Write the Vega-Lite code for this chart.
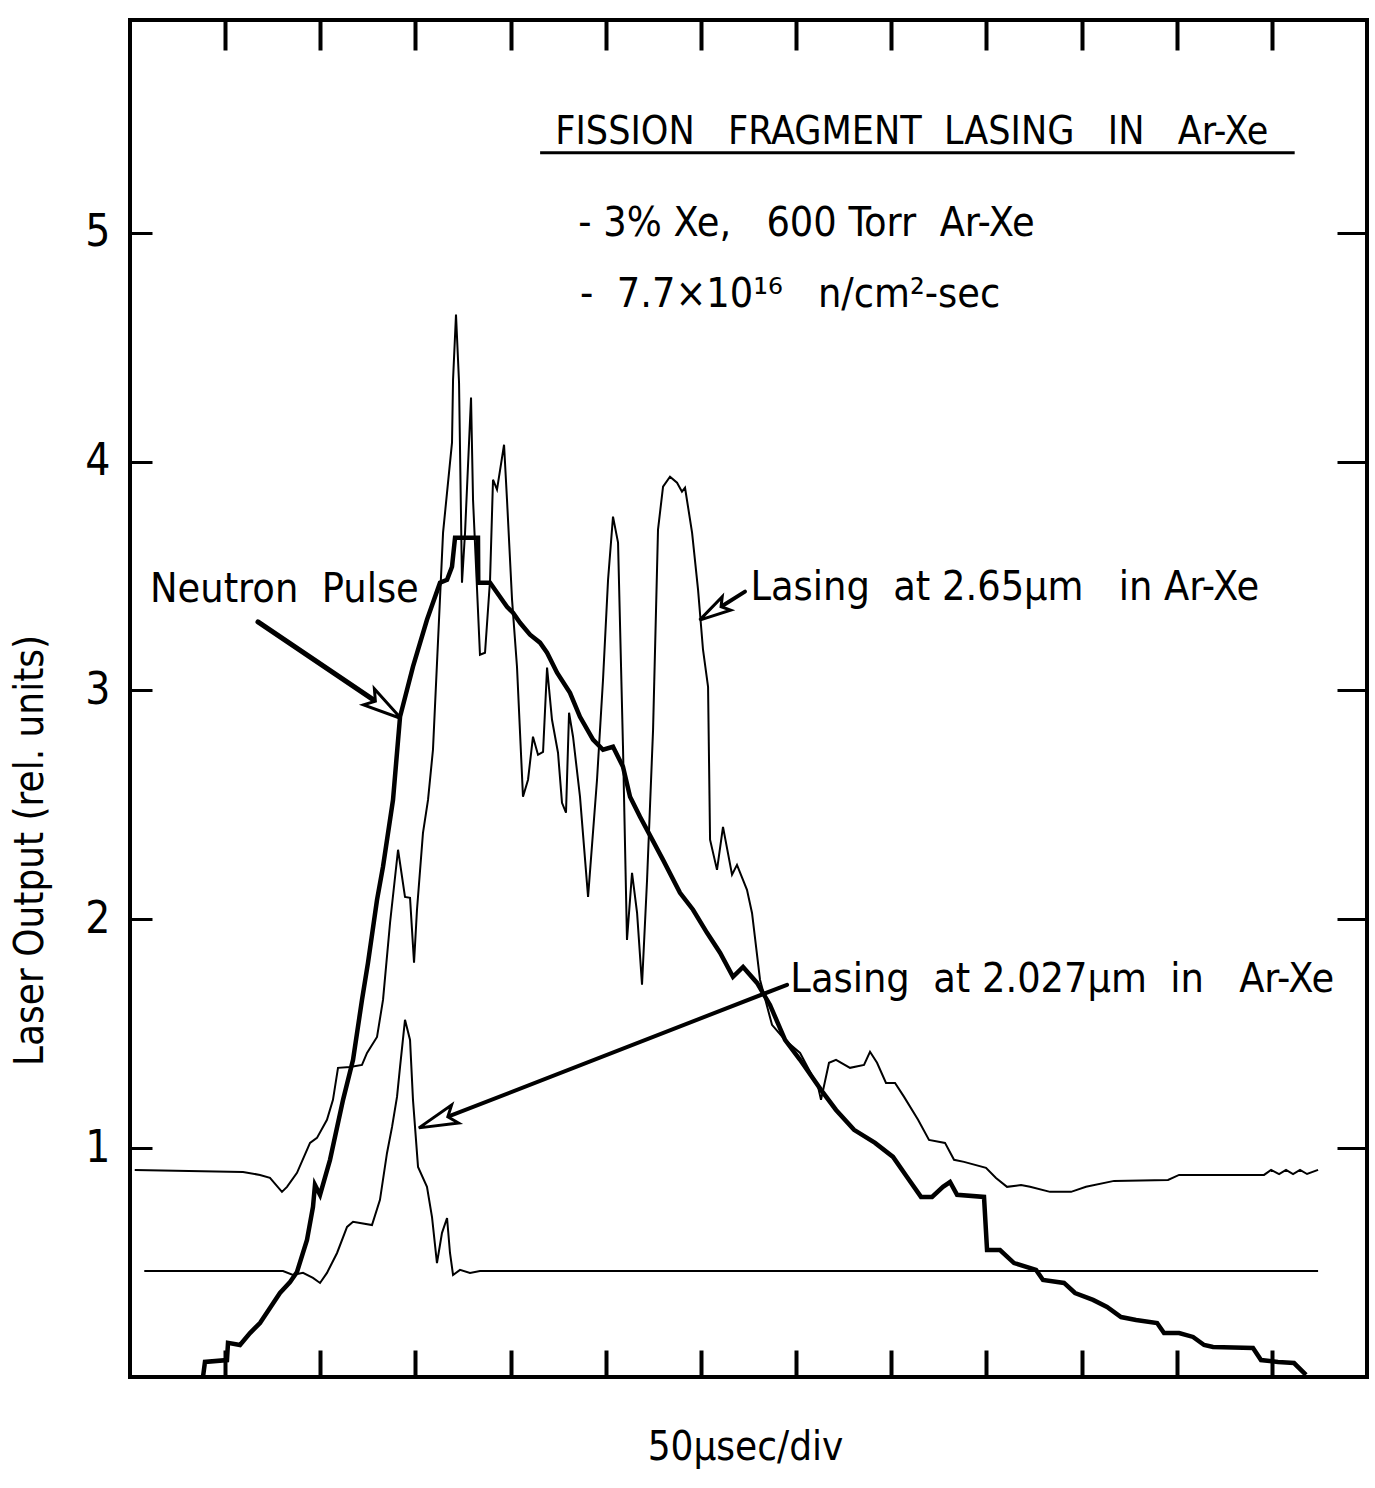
{
  "$schema": "https://vega.github.io/schema/vega-lite/v6.json",
  "width": 1237,
  "height": 1357,
  "autosize": "none",
  "padding": {"left": 130, "top": 20, "right": 8, "bottom": 111},
  "background": "white",
  "config": {
    "view": {"stroke": "black", "strokeWidth": 4},
    "font": "DejaVu Sans Condensed",
    "axis": {"grid": false, "domain": false, "labelColor": "black", "tickColor": "black", "titleColor": "black", "titleFontWeight": "normal", "labelFont": "DejaVu Sans Condensed", "titleFont": "DejaVu Sans Condensed"}
  },
  "datasets": {
    "neutron": [
      {"t": 0.767, "v": 0.0}, {"t": 0.788, "v": 0.066}, {"t": 1.019, "v": 0.074}, {"t": 1.03, "v": 0.149},
      {"t": 1.156, "v": 0.14}, {"t": 1.261, "v": 0.192}, {"t": 1.366, "v": 0.236}, {"t": 1.471, "v": 0.302},
      {"t": 1.576, "v": 0.367}, {"t": 1.682, "v": 0.415}, {"t": 1.755, "v": 0.459}, {"t": 1.86, "v": 0.599},
      {"t": 1.923, "v": 0.743}, {"t": 1.944, "v": 0.839}, {"t": 1.997, "v": 0.796}, {"t": 2.102, "v": 0.949},
      {"t": 2.239, "v": 1.211}, {"t": 2.344, "v": 1.386}, {"t": 2.438, "v": 1.648}, {"t": 2.501, "v": 1.81},
      {"t": 2.596, "v": 2.085}, {"t": 2.659, "v": 2.23}, {"t": 2.764, "v": 2.522}, {"t": 2.838, "v": 2.885},
      {"t": 2.974, "v": 3.104}, {"t": 3.121, "v": 3.309}, {"t": 3.258, "v": 3.471}, {"t": 3.332, "v": 3.484},
      {"t": 3.384, "v": 3.541}, {"t": 3.416, "v": 3.668}, {"t": 3.657, "v": 3.668}, {"t": 3.66, "v": 3.471},
      {"t": 3.784, "v": 3.471}, {"t": 3.836, "v": 3.44}, {"t": 3.962, "v": 3.366}, {"t": 4.025, "v": 3.34},
      {"t": 4.099, "v": 3.296}, {"t": 4.204, "v": 3.244}, {"t": 4.309, "v": 3.209}, {"t": 4.383, "v": 3.165},
      {"t": 4.488, "v": 3.078}, {"t": 4.624, "v": 2.99}, {"t": 4.729, "v": 2.885}, {"t": 4.866, "v": 2.785},
      {"t": 4.971, "v": 2.741}, {"t": 5.076, "v": 2.754}, {"t": 5.181, "v": 2.667}, {"t": 5.255, "v": 2.536},
      {"t": 5.36, "v": 2.448}, {"t": 5.434, "v": 2.391}, {"t": 5.602, "v": 2.26}, {"t": 5.78, "v": 2.116},
      {"t": 5.917, "v": 2.042}, {"t": 6.064, "v": 1.941}, {"t": 6.201, "v": 1.854}, {"t": 6.337, "v": 1.749},
      {"t": 6.443, "v": 1.792}, {"t": 6.59, "v": 1.722}, {"t": 6.726, "v": 1.626}, {"t": 6.884, "v": 1.473},
      {"t": 7.042, "v": 1.386}, {"t": 7.262, "v": 1.255}, {"t": 7.42, "v": 1.167}, {"t": 7.609, "v": 1.08},
      {"t": 7.83, "v": 1.023}, {"t": 8.019, "v": 0.962}, {"t": 8.166, "v": 0.874}, {"t": 8.313, "v": 0.787},
      {"t": 8.429, "v": 0.787}, {"t": 8.544, "v": 0.831}, {"t": 8.618, "v": 0.852}, {"t": 8.692, "v": 0.796},
      {"t": 8.975, "v": 0.787}, {"t": 9.007, "v": 0.555}, {"t": 9.143, "v": 0.555}, {"t": 9.291, "v": 0.498},
      {"t": 9.522, "v": 0.468}, {"t": 9.595, "v": 0.424}, {"t": 9.816, "v": 0.411}, {"t": 9.932, "v": 0.367},
      {"t": 10.121, "v": 0.337}, {"t": 10.268, "v": 0.306}, {"t": 10.415, "v": 0.262}, {"t": 10.573, "v": 0.249},
      {"t": 10.794, "v": 0.236}, {"t": 10.867, "v": 0.192}, {"t": 11.025, "v": 0.192}, {"t": 11.172, "v": 0.175},
      {"t": 11.288, "v": 0.14}, {"t": 11.382, "v": 0.131}, {"t": 11.802, "v": 0.127}, {"t": 11.886, "v": 0.074},
      {"t": 12.065, "v": 0.066}, {"t": 12.233, "v": 0.061}, {"t": 12.359, "v": 0.009}
    ],
    "lasing": [
      {"s": "2.65", "t": 0.05, "v": 0.905}, {"s": "2.65", "t": 1.188, "v": 0.896}, {"s": "2.65", "t": 1.366, "v": 0.883},
      {"s": "2.65", "t": 1.471, "v": 0.87}, {"s": "2.65", "t": 1.597, "v": 0.809}, {"s": "2.65", "t": 1.65, "v": 0.831},
      {"s": "2.65", "t": 1.755, "v": 0.892}, {"s": "2.65", "t": 1.892, "v": 1.023}, {"s": "2.65", "t": 1.965, "v": 1.045},
      {"s": "2.65", "t": 2.07, "v": 1.124}, {"s": "2.65", "t": 2.133, "v": 1.211}, {"s": "2.65", "t": 2.186, "v": 1.351},
      {"s": "2.65", "t": 2.312, "v": 1.355}, {"s": "2.65", "t": 2.438, "v": 1.364}, {"s": "2.65", "t": 2.491, "v": 1.416},
      {"s": "2.65", "t": 2.596, "v": 1.486}, {"s": "2.65", "t": 2.659, "v": 1.648}, {"s": "2.65", "t": 2.733, "v": 1.985},
      {"s": "2.65", "t": 2.817, "v": 2.304}, {"s": "2.65", "t": 2.89, "v": 2.098}, {"s": "2.65", "t": 2.943, "v": 2.094},
      {"s": "2.65", "t": 2.985, "v": 1.81}, {"s": "2.65", "t": 3.016, "v": 2.042}, {"s": "2.65", "t": 3.079, "v": 2.378},
      {"s": "2.65", "t": 3.132, "v": 2.522}, {"s": "2.65", "t": 3.184, "v": 2.741}, {"s": "2.65", "t": 3.29, "v": 3.69},
      {"s": "2.65", "t": 3.384, "v": 4.083}, {"s": "2.65", "t": 3.395, "v": 4.358}, {"s": "2.65", "t": 3.426, "v": 4.643},
      {"s": "2.65", "t": 3.458, "v": 4.345}, {"s": "2.65", "t": 3.489, "v": 3.471}, {"s": "2.65", "t": 3.521, "v": 3.69},
      {"s": "2.65", "t": 3.584, "v": 4.28}, {"s": "2.65", "t": 3.605, "v": 3.834}, {"s": "2.65", "t": 3.678, "v": 3.156},
      {"s": "2.65", "t": 3.731, "v": 3.165}, {"s": "2.65", "t": 3.784, "v": 3.484}, {"s": "2.65", "t": 3.815, "v": 3.921},
      {"s": "2.65", "t": 3.857, "v": 3.878}, {"s": "2.65", "t": 3.931, "v": 4.074}, {"s": "2.65", "t": 3.962, "v": 3.834},
      {"s": "2.65", "t": 4.015, "v": 3.397}, {"s": "2.65", "t": 4.067, "v": 3.104}, {"s": "2.65", "t": 4.13, "v": 2.536},
      {"s": "2.65", "t": 4.183, "v": 2.61}, {"s": "2.65", "t": 4.235, "v": 2.798}, {"s": "2.65", "t": 4.288, "v": 2.719},
      {"s": "2.65", "t": 4.341, "v": 2.732}, {"s": "2.65", "t": 4.383, "v": 3.1}, {"s": "2.65", "t": 4.435, "v": 2.872},
      {"s": "2.65", "t": 4.498, "v": 2.728}, {"s": "2.65", "t": 4.54, "v": 2.509}, {"s": "2.65", "t": 4.582, "v": 2.466},
      {"s": "2.65", "t": 4.614, "v": 2.903}, {"s": "2.65", "t": 4.656, "v": 2.798}, {"s": "2.65", "t": 4.729, "v": 2.536},
      {"s": "2.65", "t": 4.814, "v": 2.098}, {"s": "2.65", "t": 4.908, "v": 2.61}, {"s": "2.65", "t": 4.971, "v": 3.047},
      {"s": "2.65", "t": 5.024, "v": 3.484}, {"s": "2.65", "t": 5.076, "v": 3.76}, {"s": "2.65", "t": 5.129, "v": 3.646},
      {"s": "2.65", "t": 5.181, "v": 2.754}, {"s": "2.65", "t": 5.223, "v": 1.91}, {"s": "2.65", "t": 5.276, "v": 2.203},
      {"s": "2.65", "t": 5.329, "v": 2.028}, {"s": "2.65", "t": 5.381, "v": 1.714}, {"s": "2.65", "t": 5.434, "v": 2.173},
      {"s": "2.65", "t": 5.497, "v": 2.828}, {"s": "2.65", "t": 5.549, "v": 3.703}, {"s": "2.65", "t": 5.602, "v": 3.891},
      {"s": "2.65", "t": 5.675, "v": 3.934}, {"s": "2.65", "t": 5.749, "v": 3.908}, {"s": "2.65", "t": 5.801, "v": 3.869},
      {"s": "2.65", "t": 5.833, "v": 3.886}, {"s": "2.65", "t": 5.907, "v": 3.69}, {"s": "2.65", "t": 5.97, "v": 3.44},
      {"s": "2.65", "t": 6.022, "v": 3.178}, {"s": "2.65", "t": 6.075, "v": 3.016}, {"s": "2.65", "t": 6.096, "v": 2.348},
      {"s": "2.65", "t": 6.169, "v": 2.216}, {"s": "2.65", "t": 6.232, "v": 2.404}, {"s": "2.65", "t": 6.327, "v": 2.195},
      {"s": "2.65", "t": 6.379, "v": 2.238}, {"s": "2.65", "t": 6.484, "v": 2.129}, {"s": "2.65", "t": 6.537, "v": 2.028},
      {"s": "2.65", "t": 6.621, "v": 1.736}, {"s": "2.65", "t": 6.747, "v": 1.539}, {"s": "2.65", "t": 6.884, "v": 1.473},
      {"s": "2.65", "t": 7.042, "v": 1.416}, {"s": "2.65", "t": 7.231, "v": 1.268}, {"s": "2.65", "t": 7.262, "v": 1.211},
      {"s": "2.65", "t": 7.346, "v": 1.373}, {"s": "2.65", "t": 7.42, "v": 1.386}, {"s": "2.65", "t": 7.567, "v": 1.351},
      {"s": "2.65", "t": 7.714, "v": 1.364}, {"s": "2.65", "t": 7.777, "v": 1.421}, {"s": "2.65", "t": 7.851, "v": 1.373},
      {"s": "2.65", "t": 7.945, "v": 1.285}, {"s": "2.65", "t": 8.04, "v": 1.285}, {"s": "2.65", "t": 8.135, "v": 1.224},
      {"s": "2.65", "t": 8.282, "v": 1.124}, {"s": "2.65", "t": 8.397, "v": 1.036}, {"s": "2.65", "t": 8.565, "v": 1.023},
      {"s": "2.65", "t": 8.66, "v": 0.949}, {"s": "2.65", "t": 8.765, "v": 0.94}, {"s": "2.65", "t": 8.996, "v": 0.914},
      {"s": "2.65", "t": 9.101, "v": 0.87}, {"s": "2.65", "t": 9.217, "v": 0.831}, {"s": "2.65", "t": 9.364, "v": 0.839},
      {"s": "2.65", "t": 9.459, "v": 0.831}, {"s": "2.65", "t": 9.669, "v": 0.809}, {"s": "2.65", "t": 9.89, "v": 0.809},
      {"s": "2.65", "t": 10.047, "v": 0.831}, {"s": "2.65", "t": 10.342, "v": 0.857}, {"s": "2.65", "t": 10.909, "v": 0.861},
      {"s": "2.65", "t": 11.025, "v": 0.883}, {"s": "2.65", "t": 11.918, "v": 0.883}, {"s": "2.65", "t": 11.992, "v": 0.905},
      {"s": "2.65", "t": 12.076, "v": 0.887}, {"s": "2.65", "t": 12.149, "v": 0.905}, {"s": "2.65", "t": 12.223, "v": 0.887},
      {"s": "2.65", "t": 12.296, "v": 0.905}, {"s": "2.65", "t": 12.37, "v": 0.887}, {"s": "2.65", "t": 12.486, "v": 0.905},
      {"s": "2.027", "t": 0.15, "v": 0.463}, {"s": "2.027", "t": 1.608, "v": 0.463}, {"s": "2.027", "t": 1.713, "v": 0.446},
      {"s": "2.027", "t": 1.818, "v": 0.455}, {"s": "2.027", "t": 1.923, "v": 0.433}, {"s": "2.027", "t": 1.997, "v": 0.411},
      {"s": "2.027", "t": 2.07, "v": 0.455}, {"s": "2.027", "t": 2.176, "v": 0.542}, {"s": "2.027", "t": 2.281, "v": 0.656},
      {"s": "2.027", "t": 2.344, "v": 0.678}, {"s": "2.027", "t": 2.543, "v": 0.664}, {"s": "2.027", "t": 2.627, "v": 0.774},
      {"s": "2.027", "t": 2.701, "v": 0.979}, {"s": "2.027", "t": 2.754, "v": 1.093}, {"s": "2.027", "t": 2.806, "v": 1.224},
      {"s": "2.027", "t": 2.838, "v": 1.355}, {"s": "2.027", "t": 2.89, "v": 1.561}, {"s": "2.027", "t": 2.943, "v": 1.473},
      {"s": "2.027", "t": 2.974, "v": 1.211}, {"s": "2.027", "t": 3.027, "v": 0.918}, {"s": "2.027", "t": 3.121, "v": 0.831},
      {"s": "2.027", "t": 3.174, "v": 0.699}, {"s": "2.027", "t": 3.226, "v": 0.498}, {"s": "2.027", "t": 3.279, "v": 0.63},
      {"s": "2.027", "t": 3.332, "v": 0.695}, {"s": "2.027", "t": 3.363, "v": 0.542}, {"s": "2.027", "t": 3.395, "v": 0.446},
      {"s": "2.027", "t": 3.468, "v": 0.468}, {"s": "2.027", "t": 3.573, "v": 0.455}, {"s": "2.027", "t": 3.678, "v": 0.463},
      {"s": "2.027", "t": 12.486, "v": 0.463}
    ],
    "arrows": [
      {"name": "neutron", "t": 1.345, "v": 3.3, "t2": 2.68, "v2": 2.925},
      {"name": "l265", "t": 6.463, "v": 3.432, "t2": 6.127, "v2": 3.344},
      {"name": "l2027", "t": 6.905, "v": 1.714, "t2": 3.226, "v2": 1.119}
    ],
    "heads": [
      {"name": "neutron", "t": 2.68, "v": 2.925},
      {"name": "l265", "t": 6.127, "v": 3.344},
      {"name": "l2027", "t": 3.226, "v": 1.119}
    ],
    "notes": [
      {"kind": "title", "t": 4.47, "v": 5.44, "label": "FISSION\u00a0\u00a0\u00a0FRAGMENT\u00a0\u00a0LASING\u00a0\u00a0\u00a0IN\u00a0\u00a0\u00a0Ar-Xe"},
      {"kind": "text", "t": 4.71, "v": 5.04, "label": "- 3% Xe,\u00a0\u00a0 600 Torr\u00a0\u00a0Ar-Xe"},
      {"kind": "text", "t": 4.73, "v": 4.73, "label": "-\u00a0 7.7\u00d710\u00b9\u2076\u00a0\u00a0 n/cm\u00b2-sec"},
      {"kind": "text", "t": 0.21, "v": 3.44, "label": "Neutron\u00a0 Pulse"},
      {"kind": "text", "t": 6.52, "v": 3.45, "label": "Lasing\u00a0 at 2.65\u00b5m\u00a0\u00a0 in Ar-Xe"},
      {"kind": "text", "t": 6.94, "v": 1.735, "label": "Lasing\u00a0 at 2.027\u00b5m\u00a0 in\u00a0\u00a0 Ar-Xe"}
    ],
    "underline": [
      {"t": 4.31, "t2": 12.24, "v": 5.35}
    ]
  },
  "resolve": {"axis": {"x": "independent", "y": "independent"}},
  "layer": [
    {
      "data": {"name": "neutron"},
      "mark": {"type": "line", "color": "black", "strokeWidth": 4.5, "interpolate": "linear"},
      "encoding": {
        "x": {"field": "t", "type": "quantitative", "scale": {"domain": [0, 13], "nice": false, "zero": false},
              "axis": {"orient": "bottom", "values": [1,2,3,4,5,6,7,8,9,10,11,12], "labels": false, "tickSize": -27, "tickWidth": 4,
                       "title": "50\u00b5sec/div", "titleFontSize": 40, "titleX": 615, "titleY": 70, "titleBaseline": "middle", "titleAnchor": null}},
        "y": {"field": "v", "type": "quantitative", "scale": {"domain": [0, 5.93], "nice": false, "zero": false},
              "axis": {"orient": "left", "values": [1,2,3,4,5], "tickSize": -22, "tickWidth": 3, "labelFontSize": 44, "labelPadding": 42,
                       "title": "Laser Output (rel. units)", "titleFontSize": 40, "titleX": -100, "titleY": 830, "titleAngle": -90, "titleAlign": "center", "titleBaseline": "middle"}}
      }
    },
    {
      "data": {"name": "lasing"},
      "mark": {"type": "line", "color": "black", "strokeWidth": 2, "interpolate": "linear"},
      "encoding": {
        "detail": {"field": "s", "type": "nominal"},
        "x": {"field": "t", "type": "quantitative", "scale": {"domain": [0, 13], "nice": false, "zero": false},
              "axis": {"orient": "top", "values": [1,2,3,4,5,6,7,8,9,10,11,12], "labels": false, "tickSize": -30, "tickWidth": 4, "title": null}},
        "y": {"field": "v", "type": "quantitative", "scale": {"domain": [0, 5.93], "nice": false, "zero": false},
              "axis": {"orient": "right", "values": [1,2,3,4,5], "labels": false, "tickSize": -30, "tickWidth": 3, "title": null}}
      }
    },
    {
      "data": {"name": "arrows"},
      "transform": [{"filter": "datum.name === 'neutron'"}],
      "mark": {"type": "rule", "color": "black", "strokeWidth": 5, "strokeCap": "round"},
      "encoding": {
        "x": {"field": "t", "type": "quantitative", "axis": null},
        "y": {"field": "v", "type": "quantitative", "axis": null},
        "x2": {"field": "t2"}, "y2": {"field": "v2"}
      }
    },
    {
      "data": {"name": "arrows"},
      "transform": [{"filter": "datum.name !== 'neutron'"}],
      "mark": {"type": "rule", "color": "black", "strokeWidth": 4, "strokeCap": "round"},
      "encoding": {
        "x": {"field": "t", "type": "quantitative", "axis": null},
        "y": {"field": "v", "type": "quantitative", "axis": null},
        "x2": {"field": "t2"}, "y2": {"field": "v2"}
      }
    },
    {
      "data": {"name": "heads"},
      "transform": [{"filter": "datum.name === 'neutron'"}],
      "mark": {"type": "point", "shape": "M0,-1L0.5,1L0,0.6L-0.5,1Z", "angle": 124, "size": 1500, "filled": true, "fill": "white", "stroke": "black", "strokeWidth": 3, "opacity": 1},
      "encoding": {
        "x": {"field": "t", "type": "quantitative", "axis": null},
        "y": {"field": "v", "type": "quantitative", "axis": null}
      }
    },
    {
      "data": {"name": "heads"},
      "transform": [{"filter": "datum.name === 'l265'"}],
      "mark": {"type": "point", "shape": "M0,-1L0.5,1L0,0.6L-0.5,1Z", "angle": 238, "size": 1000, "filled": true, "fill": "white", "stroke": "black", "strokeWidth": 3, "opacity": 1},
      "encoding": {
        "x": {"field": "t", "type": "quantitative", "axis": null},
        "y": {"field": "v", "type": "quantitative", "axis": null}
      }
    },
    {
      "data": {"name": "heads"},
      "transform": [{"filter": "datum.name === 'l2027'"}],
      "mark": {"type": "point", "shape": "M0,-1L0.5,1L0,0.6L-0.5,1Z", "angle": 249, "size": 1500, "filled": true, "fill": "white", "stroke": "black", "strokeWidth": 3, "opacity": 1},
      "encoding": {
        "x": {"field": "t", "type": "quantitative", "axis": null},
        "y": {"field": "v", "type": "quantitative", "axis": null}
      }
    },
    {
      "data": {"name": "notes"},
      "transform": [{"filter": "datum.kind === 'title'"}],
      "mark": {"type": "text", "align": "left", "baseline": "middle", "fontSize": 39, "color": "black", "font": "DejaVu Sans Condensed"},
      "encoding": {
        "x": {"field": "t", "type": "quantitative", "axis": null},
        "y": {"field": "v", "type": "quantitative", "axis": null},
        "text": {"field": "label"}
      }
    },
    {
      "data": {"name": "notes"},
      "transform": [{"filter": "datum.kind === 'text'"}],
      "mark": {"type": "text", "align": "left", "baseline": "middle", "fontSize": 41, "color": "black", "font": "DejaVu Sans Condensed"},
      "encoding": {
        "x": {"field": "t", "type": "quantitative", "axis": null},
        "y": {"field": "v", "type": "quantitative", "axis": null},
        "text": {"field": "label"}
      }
    },
    {
      "data": {"name": "underline"},
      "mark": {"type": "rule", "color": "black", "strokeWidth": 3},
      "encoding": {
        "x": {"field": "t", "type": "quantitative", "axis": null},
        "x2": {"field": "t2"},
        "y": {"field": "v", "type": "quantitative", "axis": null}
      }
    }
  ]
}
